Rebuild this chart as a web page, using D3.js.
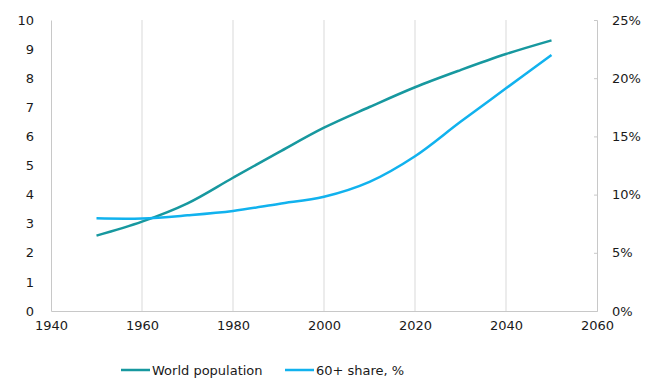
<!DOCTYPE html>
<html>
<head>
<meta charset="utf-8">
<script src="https://cdn.jsdelivr.net/npm/d3@7"></script>
<style>
  html, body { margin: 0; padding: 0; background: #fff; }
  svg text { font-family: "DejaVu Sans", Verdana, sans-serif; fill: #1a1a1a; }
</style>
</head>
<body>
<svg id="chart" width="663" height="381"></svg>
<script>
// Years shown on the chart
const years = [1950, 1960, 1970, 1980, 1990, 2000, 2010, 2020, 2030, 2040, 2050];
// World population, billions (left axis)
const worldPopulation = [2.59, 3.07, 3.70, 4.58, 5.45, 6.30, 7.01, 7.69, 8.28, 8.83, 9.30];
// Share of population aged 60+, % (right axis)
const share60plus = [7.96, 7.95, 8.22, 8.59, 9.2, 9.82, 11.1, 13.3, 16.26, 19.13, 22.0];

const xTicks = [1940, 1960, 1980, 2000, 2020, 2040, 2060];
const leftTicks = [0, 1, 2, 3, 4, 5, 6, 7, 8, 9, 10];
const rightTicks = [0, 5, 10, 15, 20, 25];

const seriesNames = ["World population", "60+ share, %"];
const colors = ["#17989f", "#11b2ee"];

const svg = d3.select("#chart");
const m = { left: 51, right: 597, top: 20, bottom: 311 };
const fontSize = "13px";

const x = d3.scaleLinear().domain([1940, 2060]).range([m.left, m.right]);
const yL = d3.scaleLinear().domain([0, 10]).range([m.bottom, m.top]);
const yR = d3.scaleLinear().domain([0, 25]).range([m.bottom, m.top]);

// vertical gridlines
svg.append("g")
  .selectAll("line")
  .data(xTicks.slice(1, -1))
  .join("line")
  .attr("x1", d => x(d)).attr("x2", d => x(d))
  .attr("y1", m.top).attr("y2", m.bottom)
  .attr("stroke", "#d9d9d9").attr("stroke-width", 1);

// left axis
const gL = svg.append("g").attr("transform", `translate(${m.left},0)`)
  .call(d3.axisLeft(yL).tickValues(leftTicks).tickSize(0).tickPadding(17).tickFormat(d3.format("d")));
gL.select(".domain").attr("stroke", "#c8c8c8");
gL.selectAll("text").attr("font-size", fontSize);

// right axis
const gR = svg.append("g").attr("transform", `translate(${m.right},0)`)
  .call(d3.axisRight(yR).tickValues(rightTicks).tickSize(-3).tickPadding(15).tickFormat(d => d + "%"));
gR.select(".domain").attr("stroke", "#c8c8c8");
gR.selectAll(".tick line").attr("stroke", "#c8c8c8");
gR.selectAll("text").attr("font-size", fontSize);

// bottom axis
const gB = svg.append("g").attr("transform", `translate(0,${m.bottom})`)
  .call(d3.axisBottom(x).tickValues(xTicks).tickSize(0).tickPadding(10).tickFormat(d3.format("d")));
gB.select(".domain").attr("stroke", "#c8c8c8");
gB.selectAll("text").attr("font-size", fontSize);

// smoothed series lines
const lineL = d3.line().x((d, i) => x(years[i])).y(d => yL(d)).curve(d3.curveCatmullRom.alpha(0.5));
const lineR = d3.line().x((d, i) => x(years[i])).y(d => yR(d)).curve(d3.curveCatmullRom.alpha(0.5));

svg.append("path").datum(worldPopulation).attr("d", lineL)
  .attr("fill", "none").attr("stroke", colors[0]).attr("stroke-width", 2.5);
svg.append("path").datum(share60plus).attr("d", lineR)
  .attr("fill", "none").attr("stroke", colors[1]).attr("stroke-width", 2.5);

// legend
const legendItems = [
  { name: seriesNames[0], color: colors[0], x0: 121 },
  { name: seriesNames[1], color: colors[1], x0: 285 }
];
const lg = svg.append("g");
legendItems.forEach(it => {
  lg.append("line").attr("x1", it.x0).attr("x2", it.x0 + 29)
    .attr("y1", 370).attr("y2", 370)
    .attr("stroke", it.color).attr("stroke-width", 2.5);
  lg.append("text").attr("x", it.x0 + 31).attr("y", 374.5)
    .attr("font-size", fontSize).text(it.name);
});
</script>
</body>
</html>
